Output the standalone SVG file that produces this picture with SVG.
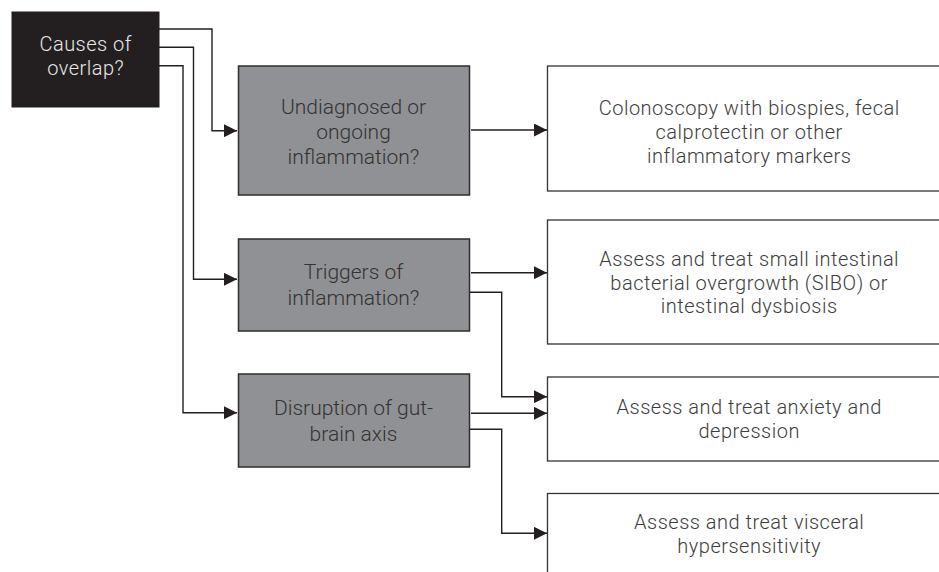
<svg xmlns="http://www.w3.org/2000/svg" width="939" height="572" viewBox="0 0 939 572">
<defs>
<marker id="ah" markerUnits="userSpaceOnUse" markerWidth="13" markerHeight="13" refX="13" refY="6.5" orient="auto">
<path d="M0,0 L13,6.5 L0,13 z" fill="#231f20"/>
</marker>
<style>
.t{font-family:Roboto,"Liberation Sans",sans-serif;font-weight:300;font-size:21px;text-anchor:middle}
.s{font-size:20px;letter-spacing:0.5px}
.blk{fill:#231f20;stroke:#231f20;stroke-width:1}
.gry{fill:#909194;stroke:#2e2e2e;stroke-width:1.5}
.wht{fill:#ffffff;stroke:#333333;stroke-width:1.3}
.tw{fill:#e8e8e8}
.tg{fill:#333333}
.tk{fill:#3d3d3d}
.c{fill:none;stroke:#231f20;stroke-width:1.4;marker-end:url(#ah)}
</style>
</defs>
<rect width="939" height="572" fill="#ffffff"/>
<g id="connectors">
<path class="c" d="M159,29 H212 V130.7 H237"/>
<path class="c" d="M159,47.3 H193.5 V279.3 H237"/>
<path class="c" d="M159,65.7 H183 V412.7 H237"/>
<path class="c" d="M471,130 H547"/>
<path class="c" d="M471,272.7 H547"/>
<path class="c" d="M469,292.3 H501.7 V396.7 H547"/>
<path class="c" d="M471,413.3 H547"/>
<path class="c" d="M469,429.3 H501.7 V533.3 H547"/>
</g>
<g id="causes">
<rect class="blk" x="12" y="12" width="147" height="95"/>
<text class="t s tw" x="85.7" y="51.3">Causes of</text>
<text class="t s tw" x="85.7" y="74.9">overlap?</text>
</g>
<g id="undiagnosed">
<rect class="gry" x="238.5" y="66" width="231" height="129"/>
<text class="t tg" x="353.5" y="113.5">Undiagnosed or</text>
<text class="t tg" x="353.5" y="138.5">ongoing</text>
<text class="t tg" x="353.5" y="163.5">inflammation?</text>
</g>
<g id="triggers">
<rect class="gry" x="238.5" y="239" width="231" height="92"/>
<text class="t tg" x="353.5" y="279">Triggers of</text>
<text class="t tg" x="353.5" y="305">inflammation?</text>
</g>
<g id="disruption">
<rect class="gry" x="238.5" y="374" width="231" height="93"/>
<text class="t tg" x="353.5" y="415">Disruption of gut-</text>
<text class="t tg" x="353.5" y="441">brain axis</text>
</g>
<g id="colonoscopy">
<rect class="wht" x="547.5" y="66" width="404" height="125"/>
<text class="t s tk" x="749.2" y="115.4">Colonoscopy with biospies, fecal</text>
<text class="t s tk" x="749.2" y="139">calprotectin or other</text>
<text class="t s tk" x="749.2" y="162.6">inflammatory markers</text>
</g>
<g id="sibo">
<rect class="wht" x="547.5" y="220" width="404" height="124"/>
<text class="t s tk" x="749.2" y="265.9">Assess and treat small intestinal</text>
<text class="t s tk" x="749.2" y="289.5">bacterial overgrowth (SIBO) or</text>
<text class="t s tk" x="749.2" y="313.1">intestinal dysbiosis</text>
</g>
<g id="anxiety">
<rect class="wht" x="547.5" y="377" width="404" height="84"/>
<text class="t s tk" x="749.2" y="414">Assess and treat anxiety and</text>
<text class="t s tk" x="749.2" y="437.6">depression</text>
</g>
<g id="visceral">
<rect class="wht" x="547.5" y="493.5" width="404" height="100"/>
<text class="t s tk" x="749.2" y="529">Assess and treat visceral</text>
<text class="t s tk" x="749.2" y="552.6">hypersensitivity</text>
</g>
</svg>
